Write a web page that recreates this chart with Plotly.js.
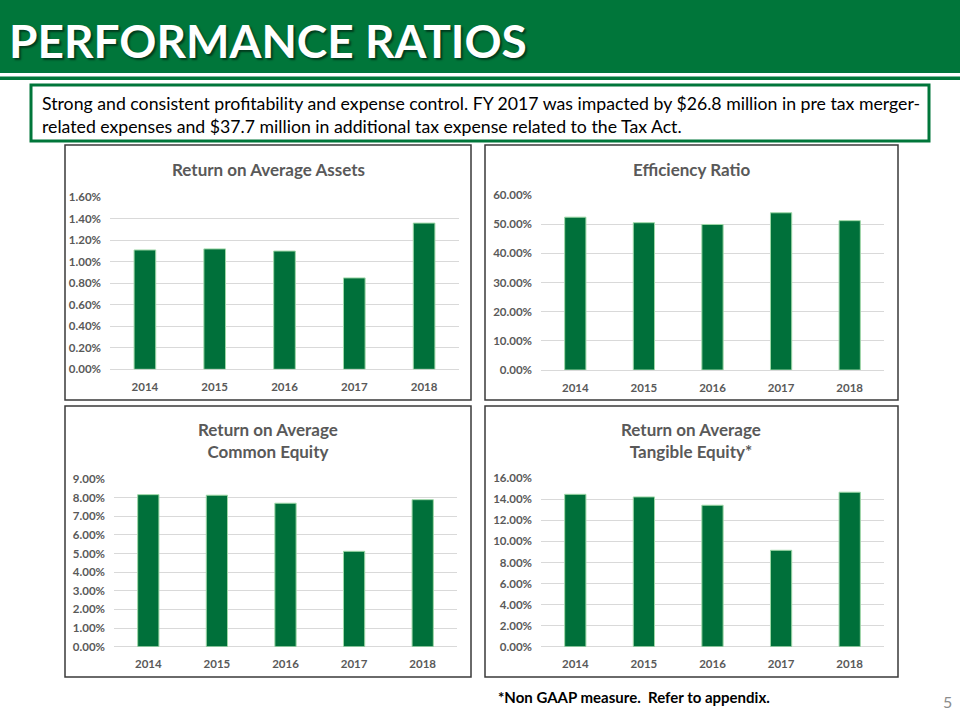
<!DOCTYPE html>
<html>
<head>
<meta charset="utf-8">
<script src="https://cdn.plot.ly/plotly-3.0.1.min.js"></script>
<style>html,body{margin:0;padding:0;background:#fff;}#chart{width:960px;height:720px;}</style>
</head>
<body>
<div id="chart"></div>
<script>
var years = ["2014", "2015", "2016", "2017", "2018"];
var roaa = [1.11, 1.12, 1.10, 0.85, 1.36];
var efficiency = [52.4, 50.5, 49.9, 53.9, 51.2];
var roace = [8.16, 8.13, 7.70, 5.12, 7.89];
var rotce = [14.48, 14.23, 13.44, 9.16, 14.68];

var titleText = "PERFORMANCE RATIOS";
var noteText = "Strong and consistent profitability and expense control. FY 2017 was impacted by $26.8 million in pre tax merger-<br>related expenses and $37.7 million in additional tax expense related to the Tax Act.";
var chartTitles = ["Return on Average Assets", "Efficiency Ratio", "Return on Average<br>Common Equity", "Return on Average<br>Tangible Equity*"];
var footText = "*Non GAAP measure.  Refer to appendix.";
var pageNum = "5";

var W = 960, H = 720;
function px(x){ return x / W; }
function py(y){ return 1 - y / H; }

var GREEN = "#00763a";
var BAR = "#00703a";
var FONT = "Lato, 'Liberation Sans', sans-serif";

function barTrace(vals, n){
  return {
    type: "bar", x: years, y: vals,
    xaxis: "x" + (n === 1 ? "" : n), yaxis: "y" + (n === 1 ? "" : n),
    marker: {color: BAR, line: {color: "#9fd8a8", width: 1}},
    hoverinfo: "x+y", showlegend: false
  };
}

var data = [barTrace(roaa,1), barTrace(efficiency,2), barTrace(roace,3), barTrace(rotce,4)];

// plot areas in pixels: [x0, x1, ytop, ybottom]
var areas = [
  [110, 459, 197.3, 369.3],
  [541, 884, 195, 370],
  [114, 457, 479, 646.7],
  [541, 884, 478.3, 646.7]
];
var yRanges = [[0, 1.6], [0, 60], [0, 9], [0, 16]];
var yDtick = [0.2, 10, 1, 2];

var layout = {
  width: W, height: H,
  margin: {l: 0, r: 0, t: 0, b: 0},
  paper_bgcolor: "#ffffff", plot_bgcolor: "rgba(0,0,0,0)",
  bargap: 0.69,
  font: {family: FONT, color: "#595959"},
  shapes: [], annotations: []
};

for (var i = 0; i < 4; i++){
  var a = areas[i];
  var sx = i === 0 ? "" : String(i + 1);
  layout["xaxis" + sx] = {
    domain: [px(a[0]), px(a[1])], anchor: "y" + sx,
    type: "category", showgrid: false, ticks: "", showline: false, zeroline: false,
    ticklabelstandoff: 9,
    tickfont: {family: FONT, size: 11.5, color: "#595959", weight: "bold"},
    fixedrange: true
  };
  layout["yaxis" + sx] = {
    domain: [py(a[3]), py(a[2])], anchor: "x" + sx,
    range: yRanges[i], dtick: yDtick[i], tick0: 0,
    tickformat: ".2f", ticksuffix: "%",
    showgrid: true, gridcolor: "#d9d9d9", gridwidth: 1,
    zeroline: true, zerolinecolor: "#d9d9d9", zerolinewidth: 1,
    ticks: "", showline: false, ticklabelstandoff: 8,
    tickfont: {family: FONT, size: 11.5, color: "#595959", weight: "bold"},
    fixedrange: true
  };
}

// header
layout.shapes.push({type: "rect", xref: "paper", yref: "paper", x0: 0, x1: 1, y0: py(73), y1: py(0), fillcolor: GREEN, line: {width: 0}, layer: "below"});
layout.shapes.push({type: "rect", xref: "paper", yref: "paper", x0: 0, x1: 1, y0: py(80), y1: py(76.5), fillcolor: GREEN, line: {width: 0}, layer: "below"});
// note box
layout.shapes.push({type: "rect", xref: "paper", yref: "paper", x0: px(31), x1: px(929), y0: py(141), y1: py(85), fillcolor: "#ffffff", line: {color: GREEN, width: 3}, layer: "below"});
// panels
var panels = [[65, 471, 145, 400], [485, 898, 145, 400], [65, 471, 406, 677], [485, 898, 406, 677]];
panels.forEach(function(p){
  layout.shapes.push({type: "rect", xref: "paper", yref: "paper", x0: px(p[0]), x1: px(p[1]), y0: py(p[3]), y1: py(p[2]), fillcolor: "#ffffff", line: {color: "#3a3a3a", width: 1.5}, layer: "below"});
});

// header text
layout.annotations.push({xref: "paper", yref: "paper", x: px(7), y: py(40), xanchor: "left", yanchor: "middle", showarrow: false, text: "<b>" + titleText + "</b>", font: {family: FONT, size: 46, color: "#ffffff", shadow: "2px 2px 2px rgba(0,0,0,0.5)"}});
// note text
layout.annotations.push({xref: "paper", yref: "paper", x: px(40), y: py(115.5), xanchor: "left", yanchor: "middle", align: "left", showarrow: false, text: noteText, font: {family: FONT, size: 17.7, color: "#000000"}});
// chart titles
var titlePos = [[268, 169], [691, 169], [268, 440.5], [691, 440.5]];
for (var j = 0; j < 4; j++){
  layout.annotations.push({xref: "paper", yref: "paper", x: px(titlePos[j][0]), y: py(titlePos[j][1]), xanchor: "center", yanchor: "middle", align: "center", showarrow: false, text: "<b>" + chartTitles[j] + "</b>", font: {family: FONT, size: 17, color: "#595959"}});
}
// footer
layout.annotations.push({xref: "paper", yref: "paper", x: px(496), y: py(697), xanchor: "left", yanchor: "middle", showarrow: false, text: "<b>" + footText + "</b>", font: {family: FONT, size: 15, color: "#000000"}});
layout.annotations.push({xref: "paper", yref: "paper", x: px(947), y: py(701), xanchor: "center", yanchor: "middle", showarrow: false, text: pageNum, font: {family: FONT, size: 16, color: "#8c8c8c"}});

Plotly.newPlot("chart", data, layout, {displayModeBar: false, staticPlot: true});
</script>
</body>
</html>
